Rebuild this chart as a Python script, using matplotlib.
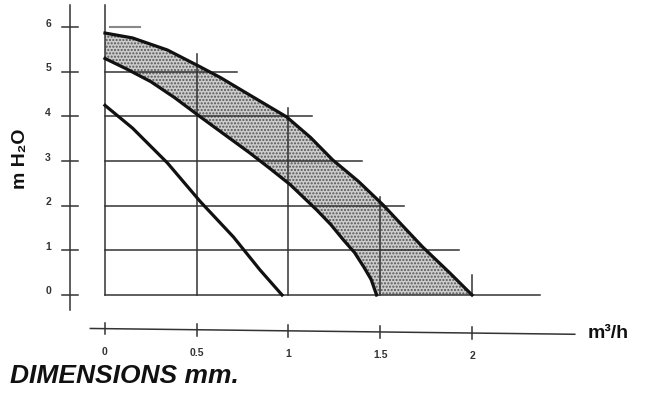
import matplotlib.pyplot as plt
import numpy as np

# pump curves (flow m3/h, head m H2O)
q_top = [0, 0.15, 0.34, 0.52, 0.63, 0.74, 0.99, 1.12, 1.24, 1.38, 1.515, 1.62, 1.73, 1.88, 2.0]
h_top = [5.87, 5.76, 5.49, 5.11, 4.87, 4.6, 3.99, 3.53, 3.03, 2.55, 2.02, 1.56, 1.08, 0.49, 0]
q_mid = [0, 0.12, 0.25, 0.38, 0.52, 0.65, 0.79, 0.9, 1.01, 1.155, 1.23, 1.30, 1.36, 1.41, 1.45, 1.48]
h_mid = [5.3, 5.06, 4.78, 4.42, 3.99, 3.6, 3.18, 2.83, 2.47, 1.9, 1.58, 1.23, 0.95, 0.63, 0.35, 0]
q_low = [0, 0.15, 0.34, 0.52, 0.70, 0.845, 0.965]
h_low = [4.25, 3.74, 2.96, 2.09, 1.3, 0.56, 0]

# staircase grid
grid_x = [0, 0.5, 1.0, 1.5, 2.0]
grid_x_top = [6.5, 5.4, 4.2, 2.2, 0.45]
grid_y = [0, 1, 2, 3, 4, 5]
grid_y_end = [2.37, 1.93, 1.63, 1.4, 1.13, 0.72]

h_ticks = [0, 1, 2, 3, 4, 5, 6]
q_ticks = [0, 0.5, 1, 1.5, 2]
q_labels = ['0', '0.5', '1', '1.5', '2']

plt.rcParams['font.family'] = ['Liberation Sans', 'DejaVu Sans']

fig = plt.figure(figsize=(6.46, 4.03), dpi=100)
ax = fig.add_axes([0, 0, 1, 1])
ax.set_xlim(-0.572, 2.948)
ax.set_ylim(-2.42, 6.61)
ax.axis('off')

# shaded band between top and middle curve
band_q = q_top + q_mid[::-1]
band_h = h_top + h_mid[::-1]
ax.fill(band_q, band_h, facecolor='#cccccc', edgecolor='#555555',
        hatch='.....', linewidth=0)

for x, top in zip(grid_x, grid_x_top):
    ax.plot([x, x], [0, top], color='#333333', lw=1.1)
for y, end in zip(grid_y, grid_y_end):
    ax.plot([0, end], [y, y], color='#333333', lw=1.1)
ax.plot([0.03, 0.19], [6.0, 6.0], color='#888888', lw=1.5)

ax.plot(q_top, h_top, color='#111111', lw=2.3)
ax.plot(q_mid, h_mid, color='#111111', lw=2.3)
ax.plot(q_low, h_low, color='#111111', lw=2.3)

# left head scale
sx = -0.19
ax.plot([sx, sx], [-0.34, 6.5], color='#333333', lw=1.1)
for t in h_ticks:
    ax.plot([sx - 0.045, sx + 0.045], [t, t], color='#333333', lw=1.1)
    ax.text(-0.31, t + 0.08, str(t), fontsize=7.5, fontweight='bold', ha='center',
            va='center', color='#333333')
ax.text(-0.463, 3.05, 'm H₂O', rotation=90, fontsize=14, fontweight='bold',
        ha='center', va='center', color='#111111')

# bottom flow scale
sy0, sy1 = -0.75, -0.88
ax.plot([-0.08, 2.56], [sy0, sy1], color='#333333', lw=1.1)
for t, lab in zip(q_ticks, q_labels):
    yy = sy0 + (sy1 - sy0) * (t + 0.08) / 2.64
    ax.plot([t, t], [yy - 0.13, yy + 0.13], color='#333333', lw=1.1)
    ax.text(t, yy - 0.52, lab, fontsize=7.5, fontweight='bold', ha='center',
            va='center', color='#333333')
ax.text(2.63, -0.86, 'm³/h', fontsize=14, fontweight='bold', ha='left', va='center',
        color='#111111')

ax.text(-0.517, -1.82, 'DIMENSIONS mm.', fontsize=19, fontweight='bold', fontstyle='italic',
        ha='left', va='center', color='#111111')

fig.savefig('out.png', dpi=100)
